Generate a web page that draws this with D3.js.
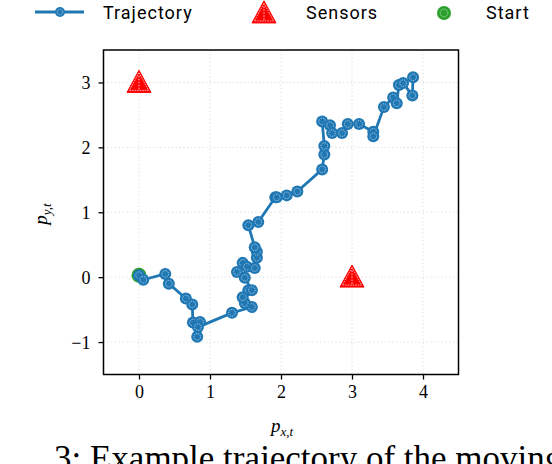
<!DOCTYPE html>
<html>
<head>
<meta charset="utf-8">
<script src="https://cdn.jsdelivr.net/npm/d3@7"></script>
<style>
  body { margin: 0; background: #fff; }
  svg { display: block; }
</style>
</head>
<body>
<svg id="chart" width="552" height="464"></svg>
<script>
// trajectory
const trajX = [0.00, 0.06, 0.37, 0.42, 0.66, 0.75, 0.76, 0.86, 0.82, 0.83,
  1.31, 1.59, 1.49, 1.46, 1.54, 1.59, 1.49, 1.38, 1.46, 1.52,
  1.63, 1.66, 1.66, 1.63, 1.54, 1.68, 1.92, 1.94, 2.08, 2.23,
  2.58, 2.61, 2.61, 2.58, 2.69, 2.72, 2.86, 2.94, 3.10, 3.30,
  3.30, 3.45, 3.58, 3.63, 3.66, 3.72, 3.85, 3.86];
const trajY = [0.03, -0.04, 0.05, -0.10, -0.33, -0.42, -0.70, -0.69, -0.92, -0.77,
  -0.55, -0.46, -0.40, -0.31, -0.20, -0.20, -0.01, 0.08, 0.22, 0.16,
  0.14, 0.30, 0.39, 0.46, 0.80, 0.85, 1.23, 1.23, 1.26, 1.32,
  1.66, 1.89, 2.02, 2.40, 2.34, 2.22, 2.22, 2.36, 2.36, 2.24,
  2.17, 2.62, 2.77, 2.68, 2.96, 2.99, 2.80, 3.08];
const sensorX = [0, 3];
const sensorY = [3, 0];
const startX = [0.0];
const startY = [0.03];
const xTicks = [0, 1, 2, 3, 4];
const yTicks = [-1, 0, 1, 2, 3];
const legendLabels = ["Trajectory", "Sensors", "Start"];

const blue = "#1f77b4", red = "#ff0000", green = "#2ca02c";
const svg = d3.select("#chart");
const pLeft = 103.5, pRight = 458.5, pTop = 50, pBottom = 374.5;

const x = d3.scaleLinear().domain([-0.5, 4.5]).range([pLeft, pRight]);
const y = d3.scaleLinear().domain([-1.5, 3.5]).range([pBottom, pTop]);

// grid
const grid = svg.append("g")
  .attr("stroke", "#d9d9d9").attr("stroke-width", 1).attr("stroke-dasharray", "1.2,2.6");
grid.selectAll(".gx").data(xTicks).enter().append("line")
  .attr("x1", d => x(d)).attr("x2", d => x(d)).attr("y1", pTop).attr("y2", pBottom);
grid.selectAll(".gy").data(yTicks).enter().append("line")
  .attr("y1", d => y(d)).attr("y2", d => y(d)).attr("x1", pLeft).attr("x2", pRight);

// axes
const fmt = d => d < 0 ? "\u2212" + Math.abs(d) : String(d);
const xAxis = svg.append("g").attr("transform", "translate(0," + pBottom + ")")
  .call(d3.axisBottom(x).tickValues(xTicks).tickSize(5).tickPadding(6).tickFormat(fmt));
const yAxis = svg.append("g").attr("transform", "translate(" + pLeft + ",0)")
  .call(d3.axisLeft(y).tickValues(yTicks).tickSize(5).tickPadding(8).tickFormat(fmt));
[xAxis, yAxis].forEach(a => {
  a.select(".domain").remove();
  a.selectAll(".tick line").attr("stroke", "#000").attr("stroke-width", 1.3);
  a.selectAll(".tick text").attr("fill", "#000")
    .style("font-family", "'Liberation Serif', 'DejaVu Serif', serif").style("font-size", "18px");
});
yAxis.selectAll(".tick text").attr("dy", "0.34em");

// frame
svg.append("rect").attr("x", pLeft).attr("y", pTop)
  .attr("width", pRight - pLeft).attr("height", pBottom - pTop)
  .attr("fill", "none").attr("stroke", "#000").attr("stroke-width", 1.5);

// markers
function circleMarker(g, cx, cy, r, color) {
  g.append("circle").attr("cx", cx).attr("cy", cy).attr("r", r).attr("fill", color);
  g.append("circle").attr("cx", cx).attr("cy", cy).attr("r", r * 0.55)
    .attr("fill", "none").attr("stroke", "#fff").attr("stroke-width", 0.7)
    .attr("stroke-dasharray", "1.2,0.8").attr("opacity", 0.8);
}
function triMarker(g, cx, cy, s, color) {
  const h = s * 0.92;
  const pts = [[cx, cy - h * 0.55], [cx + s / 2, cy + h * 0.45], [cx - s / 2, cy + h * 0.45]];
  g.append("polygon").attr("points", pts.map(p => p.join(",")).join(" "))
    .attr("fill", color).attr("stroke", color).attr("stroke-width", 1);
  const k = 0.8;
  const inner = pts.map(p => [cx + (p[0] - cx) * k, cy + (p[1] - cy) * k]);
  g.append("polygon").attr("points", inner.map(p => p.join(",")).join(" "))
    .attr("fill", "none").attr("stroke", "#fff").attr("stroke-width", 0.7)
    .attr("stroke-dasharray", "1.5,1");
  g.append("line").attr("x1", cx).attr("x2", cx).attr("y1", inner[0][1] + 3).attr("y2", inner[1][1])
    .attr("stroke", "#fff").attr("stroke-width", 0.8).attr("stroke-dasharray", "1.5,1.5");
}

// sensors
const sens = svg.append("g");
sensorX.forEach((d, i) => triMarker(sens, x(d), y(sensorY[i]), 24, red));

// start (drawn under the trajectory)
const st = svg.append("g");
startX.forEach((d, i) => circleMarker(st, x(d), y(startY[i]), 7.5, green));

// trajectory
const pts = trajX.map((d, i) => [d, trajY[i]]);
svg.append("path").datum(pts)
  .attr("d", d3.line().x(d => x(d[0])).y(d => y(d[1])))
  .attr("fill", "none").attr("stroke", blue).attr("stroke-width", 2.8)
  .attr("stroke-linejoin", "round");
const tm = svg.append("g");
pts.forEach(p => circleMarker(tm, x(p[0]), y(p[1]), 6, blue));

// axis labels
const mathFont = "'Liberation Serif', 'DejaVu Serif', serif";
const xl = svg.append("text").attr("x", 282).attr("y", 432).attr("text-anchor", "middle")
  .style("font-family", mathFont).style("font-style", "italic").style("font-size", "19px");
xl.append("tspan").text("p");
xl.append("tspan").attr("dy", 4).style("font-size", "13px").text("x,t");
const yl = svg.append("text").attr("transform", "translate(47,214) rotate(-90)")
  .attr("text-anchor", "middle")
  .style("font-family", mathFont).style("font-style", "italic").style("font-size", "19px");
yl.append("tspan").text("p");
yl.append("tspan").attr("dy", 4).style("font-size", "13px").text("y,t");

// legend
const lg = svg.append("g");
const lfont = "Roboto, 'DejaVu Sans', sans-serif";
lg.append("line").attr("x1", 35).attr("x2", 84).attr("y1", 12).attr("y2", 12)
  .attr("stroke", blue).attr("stroke-width", 2.8);
circleMarker(lg, 60, 12, 5, blue);
triMarker(lg, 264, 13, 24, red);
circleMarker(lg, 444, 13, 7, green);
const lx = [103, 306, 486];
legendLabels.forEach((t, i) => {
  lg.append("text").attr("x", lx[i]).attr("y", 19).text(t)
    .style("font-family", lfont).style("font-size", "18px")
    .style("letter-spacing", "1px").attr("fill", "#000");
});

// caption, cut off at the bottom edge as in the source page
svg.append("text").attr("x", 54).attr("y", 470)
  .style("font-family", mathFont).style("font-size", "35px")
  .text("3: Example trajectory of the moving");
</script>
</body>
</html>
